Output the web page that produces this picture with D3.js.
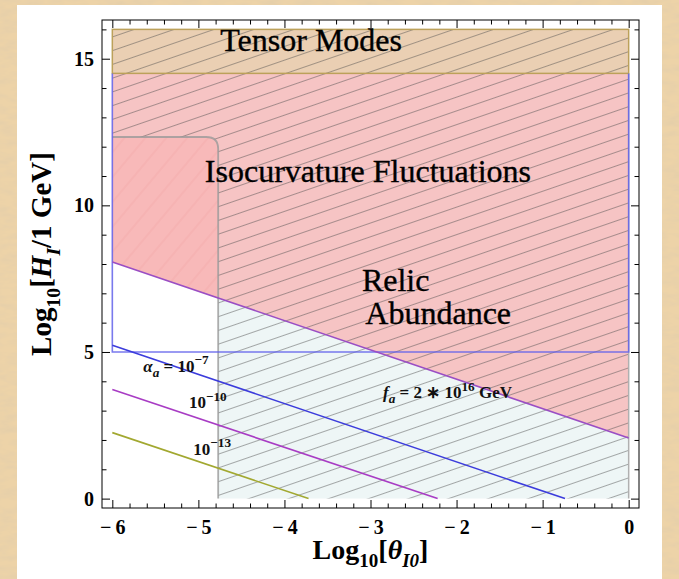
<!DOCTYPE html>
<html><head><meta charset="utf-8">
<script src="https://cdn.jsdelivr.net/npm/d3@7"></script>
<style>body{margin:0;background:#e8ca9a;overflow:hidden}svg{display:block}</style>
</head><body>
<script>
// ---------------- data ----------------
const xTickValues = [-6, -5, -4, -3, -2, -1, 0];
const yTickValues = [0, 5, 10, 15];
const xDomain = [-6, 0];
const yDomain = [0, 16];
const tensorBand = [14.5, 16];          // Log10 H_I excluded by tensor modes
const isoFloor = 5;                      // lower edge of isocurvature box
const thetaEdge = -4.77;                 // left edge of hatched region
const boxTop = 12.33;                    // top of un-hatched box
const faBoundary = [[-6, 8.07], [0, 2.07]];            // f_a = 2e16 GeV
const alpha7  = [[-6, 5.23], [-0.74, 0]];
const alpha10 = [[-6, 3.72], [-2.22, 0]];
const alpha13 = [[-6, 2.25], [-3.72, 0]];
const regionLabels = [
  {text: "Tensor Modes", x: -3.69, y: 15.27, anchor: "middle"},
  {text: "Isocurvature Fluctuations", x: -3.03, y: 10.81, anchor: "middle"},
  {text: "Relic", x: -3.10, y: 7.09, anchor: "start"},
  {text: "Abundance", x: -3.06, y: 5.96, anchor: "start"}
];

// ---------------- layout ----------------
const W = 679, H = 579;
const frame = {l: 102, r: 639, t: 20, b: 508};
const pad = 0.02;
const x = d3.scaleLinear()
  .domain([xDomain[0] - pad * (xDomain[1] - xDomain[0]), xDomain[1] + pad * (xDomain[1] - xDomain[0])])
  .range([frame.l, frame.r]);
const y = d3.scaleLinear()
  .domain([yDomain[0] - pad * (yDomain[1] - yDomain[0]), yDomain[1] + pad * (yDomain[1] - yDomain[0])])
  .range([frame.b, frame.t]);
const faY = t => faBoundary[0][1] + (t - faBoundary[0][0]) * (faBoundary[1][1] - faBoundary[0][1]) / (faBoundary[1][0] - faBoundary[0][0]);

const svg = d3.select("body").append("svg").attr("width", W).attr("height", H);
const defs = svg.append("defs");

// parchment texture
const f = defs.append("filter").attr("id", "paper").attr("x", 0).attr("y", 0).attr("width", 1).attr("height", 1);
f.append("feTurbulence").attr("type", "fractalNoise").attr("baseFrequency", "0.06 0.15").attr("numOctaves", 3).attr("seed", 7).attr("result", "n");
f.append("feColorMatrix").attr("in", "n").attr("type", "matrix")
  .attr("values", "0 0 0 0 0.78  0 0 0 0 0.62  0 0 0 0 0.40  1.7 0 0 0 -0.6");
svg.append("rect").attr("width", W).attr("height", H).attr("fill", "#edd3a8");
svg.append("rect").attr("width", W).attr("height", H).attr("filter", "url(#paper)");
// white panel
svg.append("rect").attr("x", 17).attr("y", 5).attr("width", 645).attr("height", H - 5).attr("fill", "#ffffff");

// hatch pattern
const hp = defs.append("pattern").attr("id", "hatch").attr("patternUnits", "userSpaceOnUse")
  .attr("width", 300).attr("height", 13).attr("patternTransform", "rotate(-19)");
hp.append("line").attr("x1", 0).attr("x2", 300).attr("y1", 6.5).attr("y2", 6.5)
  .attr("stroke", "#4a4a4a").attr("stroke-opacity", 0.52).attr("stroke-width", 0.9);
const bp = defs.append("pattern").attr("id", "boxmesh").attr("patternUnits", "userSpaceOnUse")
  .attr("width", 300).attr("height", 16).attr("patternTransform", "rotate(-50)");
bp.append("line").attr("x1", 0).attr("x2", 300).attr("y1", 8).attr("y2", 8)
  .attr("stroke", "#e88a8a").attr("stroke-opacity", 0.35).attr("stroke-width", 0.8);

const line = d3.line().x(d => x(d[0])).y(d => y(d[1]));
const R = 12; // corner radius (px)

// relic abundance (pink) region
svg.append("path").attr("d", line([[-6, faY(-6)], [-6, 16], [0, 16], [0, faY(0)]]) + "Z")
  .attr("fill", "#f6c4c4");
// pale region below f_a line right of thetaEdge
svg.append("path").attr("d", line([[thetaEdge, 0], [thetaEdge, faY(thetaEdge)], [0, faY(0)], [0, 0]]) + "Z")
  .attr("fill", "#eef6f6");
// un-hatched box (stronger pink)
const bx0 = x(-6), bx1 = x(thetaEdge), byT = y(boxTop);
const boxPath = `M${bx0},${y(faY(-6))}L${bx0},${byT}L${bx1 - R},${byT}Q${bx1},${byT} ${bx1},${byT + R}L${bx1},${y(faY(thetaEdge))}Z`;
svg.append("path").attr("d", boxPath).attr("fill", "#f8b9b9");
svg.append("path").attr("d", boxPath).attr("fill", "url(#boxmesh)");
// tensor modes band
svg.append("rect").attr("x", x(-6)).attr("y", y(tensorBand[1])).attr("width", x(0) - x(-6))
  .attr("height", y(tensorBand[0]) - y(tensorBand[1])).attr("fill", "#eacfb3");

// hatch region = everything except the box below boxTop left of thetaEdge
const hatchPath = `M${x(thetaEdge)},${y(0)}L${x(0)},${y(0)}L${x(0)},${y(16)}L${x(-6)},${y(16)}L${x(-6)},${byT}L${bx1 - R},${byT}Q${bx1},${byT} ${bx1},${byT + R}Z`;
svg.append("path").attr("d", hatchPath).attr("fill", "url(#hatch)");

// gray outline of box / hatched region
svg.append("path").attr("d", `M${x(-6)},${byT}L${bx1 - R},${byT}Q${bx1},${byT} ${bx1},${byT + R}L${bx1},${y(0)}`)
  .attr("fill", "none").attr("stroke", "#9a9a9a").attr("stroke-opacity", 0.8).attr("stroke-width", 1.8);
svg.append("path").attr("d", line([[0, 0], [0, tensorBand[0]]]))
  .attr("fill", "none").attr("stroke", "#b0b0b0").attr("stroke-width", 1.5);
// tensor border
svg.append("rect").attr("x", x(-6)).attr("y", y(tensorBand[1])).attr("width", x(0) - x(-6))
  .attr("height", y(tensorBand[0]) - y(tensorBand[1])).attr("fill", "none")
  .attr("stroke", "#bca15a").attr("stroke-width", 1.5);
// isocurvature box (blue)
svg.append("path").attr("d", line([[-6, tensorBand[0]], [-6, isoFloor], [0, isoFloor], [0, tensorBand[0]]]))
  .attr("fill", "none").attr("stroke", "#6262ea").attr("stroke-opacity", 0.85).attr("stroke-width", 1.6);
// f_a boundary
svg.append("path").attr("d", line(faBoundary)).attr("fill", "none").attr("stroke", "#9a4ec4").attr("stroke-width", 1.6);
// alpha lines
[[alpha7, "#3c3cdc"], [alpha10, "#a83cc4"], [alpha13, "#a2a830"]].forEach(([pts, c]) => {
  svg.append("path").attr("d", line(pts)).attr("fill", "none").attr("stroke", c).attr("stroke-width", 1.6);
});

// ---------------- frame & ticks ----------------
const serif = "'Liberation Serif','Times New Roman',serif";
const fmt = d => (d < 0 ? "\u2212\u2009" : "") + Math.abs(d);
const xMinor = d3.range(-6, 0.001, 0.2).filter(v => Math.abs(v - Math.round(v)) > 1e-6);
const yMinor = d3.range(0, 16.001, 1).filter(v => v % 5 !== 0);
function axes(gen, pos, values, size, labels, padding) {
  const a = gen.tickValues(values).tickSizeInner(-size).tickSizeOuter(0).tickPadding(padding || 3)
    .tickFormat(labels ? fmt : "");
  const g = svg.append("g").attr("transform", pos).call(a);
  g.select(".domain").remove();
  g.selectAll("line").attr("stroke", "#000").attr("stroke-width", 1);
  return g;
}
axes(d3.axisBottom(x), `translate(0,${frame.b})`, xTickValues, 8, true, 12)
  .selectAll("text").attr("font-family", serif).attr("font-weight", "bold").attr("font-size", 20).attr("fill", "#000");
axes(d3.axisBottom(x), `translate(0,${frame.b})`, xMinor, 4.5);
axes(d3.axisTop(x), `translate(0,${frame.t})`, xTickValues, 8);
axes(d3.axisTop(x), `translate(0,${frame.t})`, xMinor, 4.5);
axes(d3.axisLeft(y), `translate(${frame.l},0)`, yTickValues, 8, true, 8)
  .selectAll("text").attr("font-family", serif).attr("font-weight", "bold").attr("font-size", 20).attr("fill", "#000");
axes(d3.axisLeft(y), `translate(${frame.l},0)`, yMinor, 4.5);
axes(d3.axisRight(y), `translate(${frame.r},0)`, yTickValues, 8);
axes(d3.axisRight(y), `translate(${frame.r},0)`, yMinor, 4.5);
svg.append("rect").attr("x", frame.l).attr("y", frame.t).attr("width", frame.r - frame.l).attr("height", frame.b - frame.t)
  .attr("fill", "none").attr("stroke", "#000").attr("stroke-width", 1);

// ---------------- text ----------------
function rich(sel, parts, fs, ratio) {
  let shift = 0;
  const r = ratio || 0.68;
  parts.forEach(p => {
    const target = p.s === "sub" ? 0.3 * fs : p.s === "sup" ? -0.42 * fs : 0;
    const ts = sel.append("tspan").text(p.t).attr("dy", target - shift)
      .style("font-size", (p.s ? r * fs : fs) + "px");
    if (p.i) ts.style("font-style", "italic");
    shift = target;
  });
}
regionLabels.forEach(d => {
  svg.append("text").attr("x", x(d.x)).attr("y", y(d.y)).attr("text-anchor", d.anchor)
    .attr("font-family", serif).attr("font-size", 32).attr("fill", "#000")
    .attr("stroke", "#000").attr("stroke-width", 0.35).text(d.text);
});
const lab = (xx, yy, parts, fs) => rich(svg.append("text").attr("x", x(xx)).attr("y", y(yy))
  .attr("font-family", serif).attr("font-weight", "bold").attr("fill", "#111"), parts, fs, 0.78);
lab(-5.64, 4.33, [{t: "α", i: 1}, {t: "a", i: 1, s: "sub"}, {t: " = 10"}, {t: "−7", s: "sup"}], 17);
lab(-5.11, 3.10, [{t: "10"}, {t: "−10", s: "sup"}], 17);
lab(-5.06, 1.50, [{t: "10"}, {t: "−13", s: "sup"}], 17);
lab(-2.855, 3.44, [{t: "f", i: 1}, {t: "a", i: 1, s: "sub"}, {t: " =  2 ∗ 10"}, {t: "16", s: "sup"}, {t: " GeV"}], 17);

// axis titles
const xt = svg.append("text").attr("x", (frame.l + frame.r) / 2).attr("y", 559).attr("text-anchor", "middle")
  .attr("font-family", serif).attr("font-weight", "bold").attr("fill", "#000");
rich(xt, [{t: "Log"}, {t: "10", s: "sub"}, {t: "["}, {t: "θ", i: 1}, {t: "I0", i: 1, s: "sub"}, {t: "]"}], 28);
const yt = svg.append("text").attr("transform", `translate(51,254) rotate(-90)`)
  .attr("text-anchor", "middle").attr("font-family", serif).attr("font-weight", "bold").attr("fill", "#000");
rich(yt, [{t: "Log"}, {t: "10", s: "sub"}, {t: "["}, {t: "H", i: 1}, {t: "I", i: 1, s: "sub"}, {t: "/1 GeV]"}], 29);
</script>
</body></html>
